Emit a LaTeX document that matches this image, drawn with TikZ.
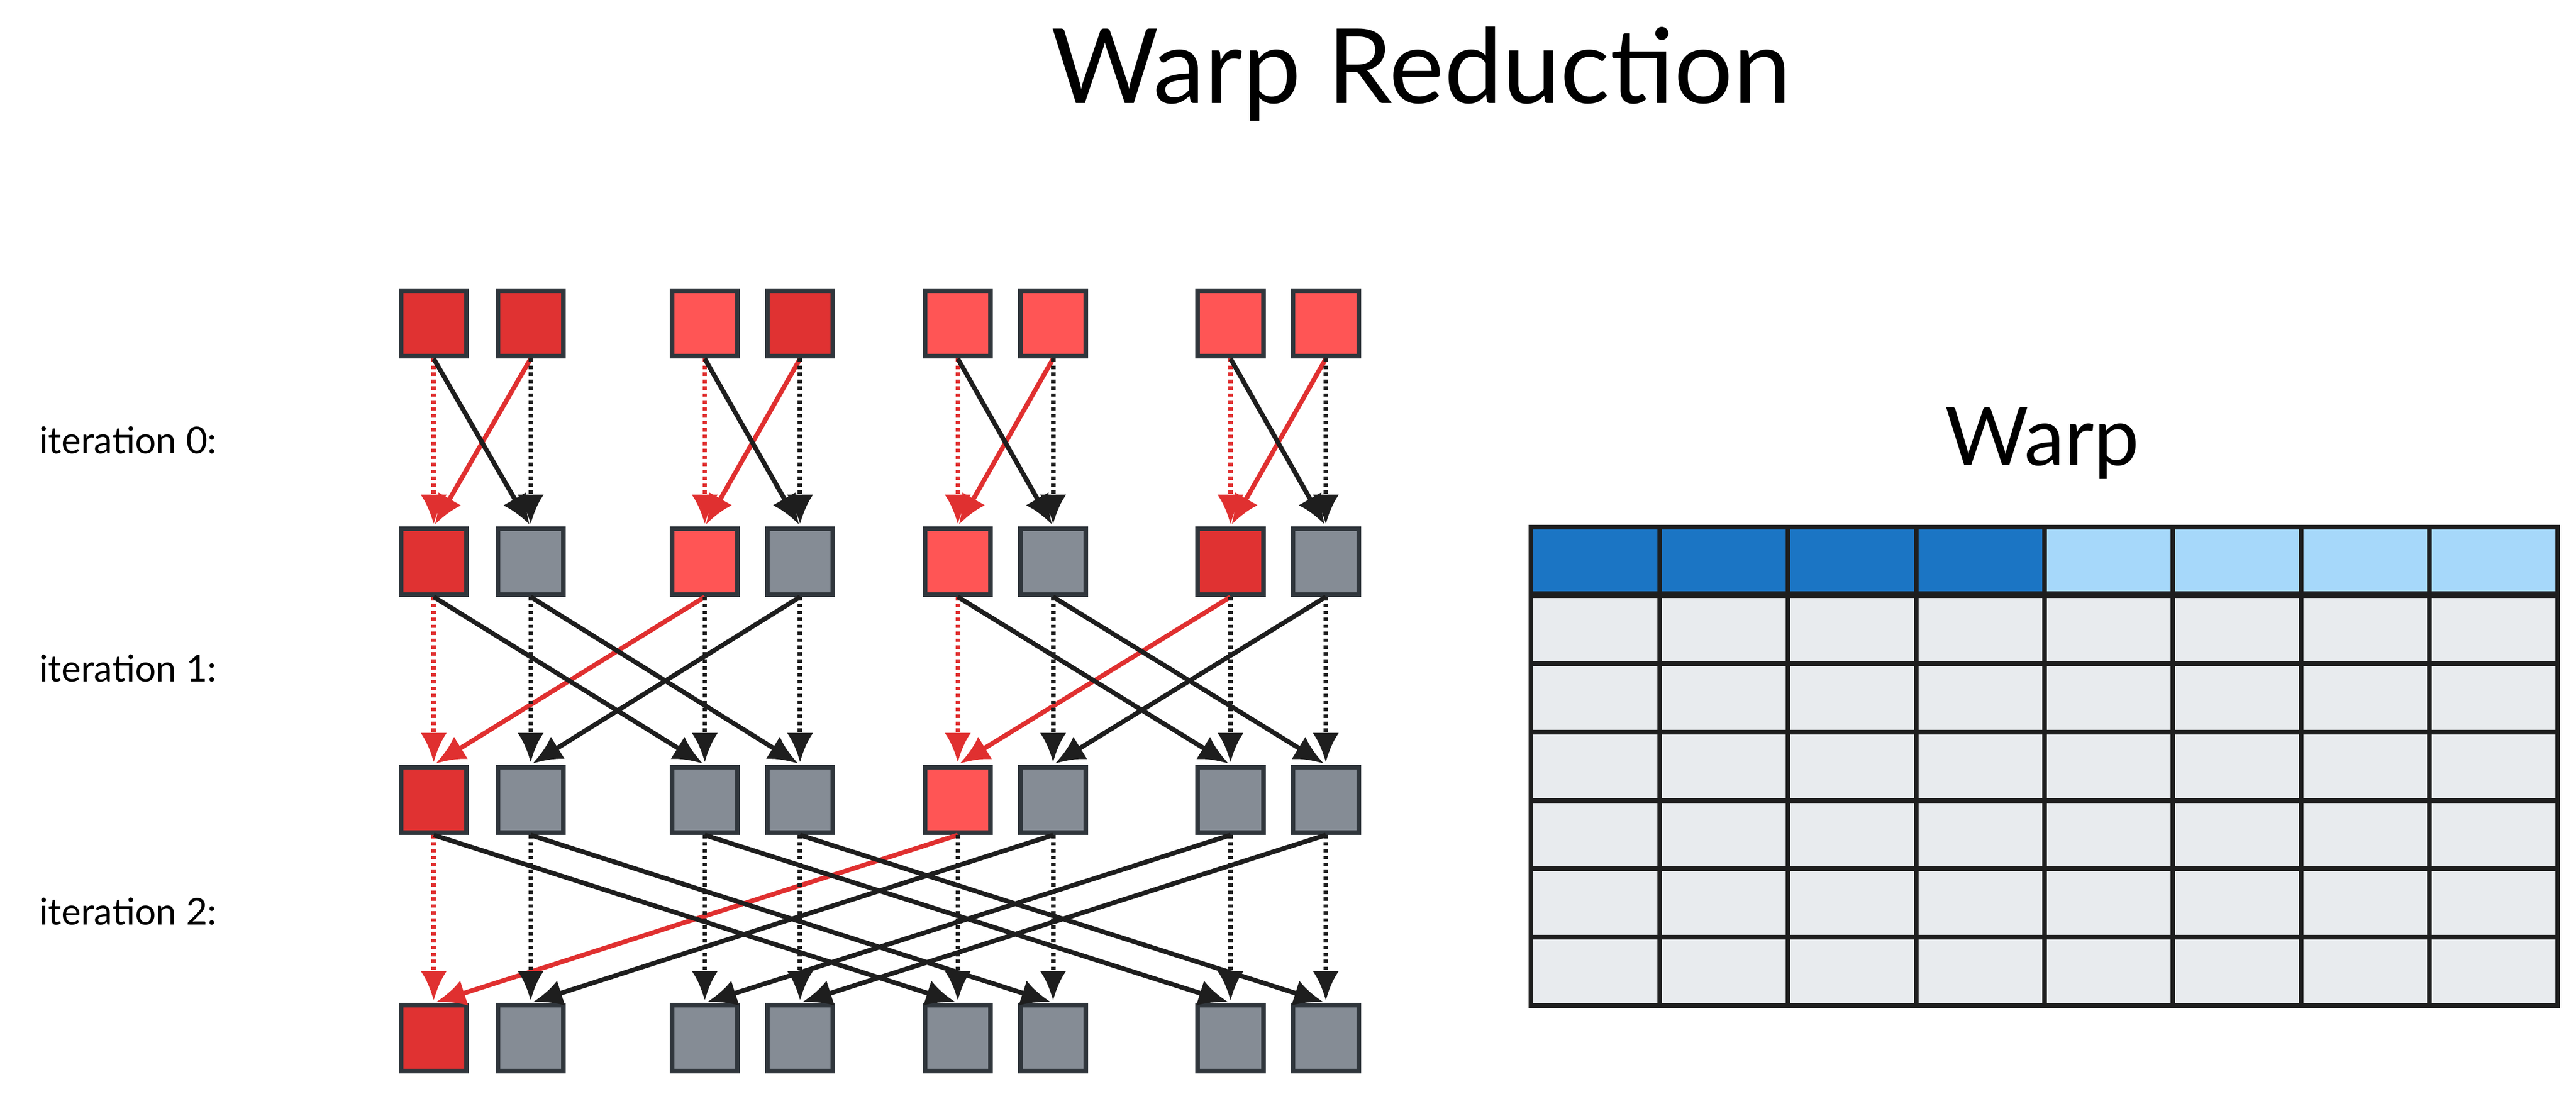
\documentclass[tikz,border=0pt]{standalone}
\usepackage{fontspec}
\setmainfont{Lato}
\usetikzlibrary{arrows.meta,positioning}
\definecolor{dred}{HTML}{E03232}
\definecolor{lred}{HTML}{FF5555}
\definecolor{cgray}{HTML}{858C95}
\definecolor{edge}{HTML}{30363C}
\definecolor{dblue}{HTML}{1B75C4}
\definecolor{lblue}{HTML}{A6D8FA}
\definecolor{cbody}{HTML}{E8EBEE}
\definecolor{ared}{HTML}{E03030}
\definecolor{ablack}{HTML}{1E1E1E}
\begin{document}
\begin{tikzpicture}[x=0.05cm,y=-0.05cm,
  cell/.style={draw=edge, line width=4pt, minimum size=2cm, inner sep=0pt},
  arr/.style={line width=4pt, -{Latex[length=0.9cm,width=0.8cm]}, shorten >=2pt},
  lbl/.style={font=\fontsize{32}{38}\selectfont}]
\useasboundingbox (0,0) rectangle (1568,666);
\node[font=\fontsize{90}{100}\selectfont] (title) at (865,45) {Warp Reduction};
% cells of the four rows
\foreach \r/\y/\cols in {0/197/{dred,dred,lred,dred,lred,lred,lred,lred},
  1/342/{dred,cgray,lred,cgray,lred,cgray,dred,cgray},
  2/487/{dred,cgray,cgray,cgray,lred,cgray,cgray,cgray},
  3/632/{dred,cgray,cgray,cgray,cgray,cgray,cgray,cgray}}{
  \foreach \col [count=\c from 0] in \cols {
    \pgfmathsetmacro{\x}{{264,323,429,487,583,641,749,807}[\c]}
    \node[cell, fill=\col] (r\r c\c) at (\x,\y) {};
  }
}
\node[lbl] (it0) at (78,268) {iteration 0:};
\node[lbl] (it1) at (78,407) {iteration 1:};
\node[lbl] (it2) at (78,555) {iteration 2:};
% iteration 0
\foreach \a/\b/\col/\dsh in {0/0/ared/dashed,1/0/ared/solid,0/1/ablack/solid,1/1/ablack/dashed,
  2/2/ared/dashed,3/2/ared/solid,2/3/ablack/solid,3/3/ablack/dashed,
  4/4/ared/dashed,5/4/ared/solid,4/5/ablack/solid,5/5/ablack/dashed,
  6/6/ared/dashed,7/6/ared/solid,6/7/ablack/solid,7/7/ablack/dashed}
  \draw[arr, \col, \dsh] (r0c\a.south) -- (r1c\b.north);
% iteration 1
\foreach \a/\b/\col/\dsh in {0/0/ared/dashed,2/0/ared/solid,1/1/ablack/dashed,3/1/ablack/solid,
  0/2/ablack/solid,2/2/ablack/dashed,1/3/ablack/solid,3/3/ablack/dashed,
  4/4/ared/dashed,6/4/ared/solid,5/5/ablack/dashed,7/5/ablack/solid,
  4/6/ablack/solid,6/6/ablack/dashed,5/7/ablack/solid,7/7/ablack/dashed}
  \draw[arr, \col, \dsh] (r1c\a.south) -- (r2c\b.north);
% iteration 2
\foreach \a/\b/\col/\dsh in {0/0/ared/dashed,4/0/ared/solid,1/1/ablack/dashed,5/1/ablack/solid,
  2/2/ablack/dashed,6/2/ablack/solid,3/3/ablack/dashed,7/3/ablack/solid,
  0/4/ablack/solid,4/4/ablack/dashed,1/5/ablack/solid,5/5/ablack/dashed,
  2/6/ablack/solid,6/6/ablack/dashed,3/7/ablack/solid,7/7/ablack/dashed}
  \draw[arr, \col, \dsh] (r2c\a.south) -- (r3c\b.north);
% warp table
\node[font=\fontsize{70}{80}\selectfont] (warp) at (1243,270) {Warp};
\foreach \c in {0,...,7}{
  \pgfmathsetmacro{\xl}{932+78.1*\c}
  \ifnum\c<4 \def\hcol{dblue}\else\def\hcol{lblue}\fi
  \draw[draw=ablack, line width=4pt, fill=\hcol] (\xl,321) rectangle ++(78.1,40.5);
  \foreach \r in {1,...,6}
    \draw[draw=ablack, line width=4pt, fill=cbody] (\xl,321+41.6*\r) rectangle ++(78.1,41.6);
}
\end{tikzpicture}
\end{document}
